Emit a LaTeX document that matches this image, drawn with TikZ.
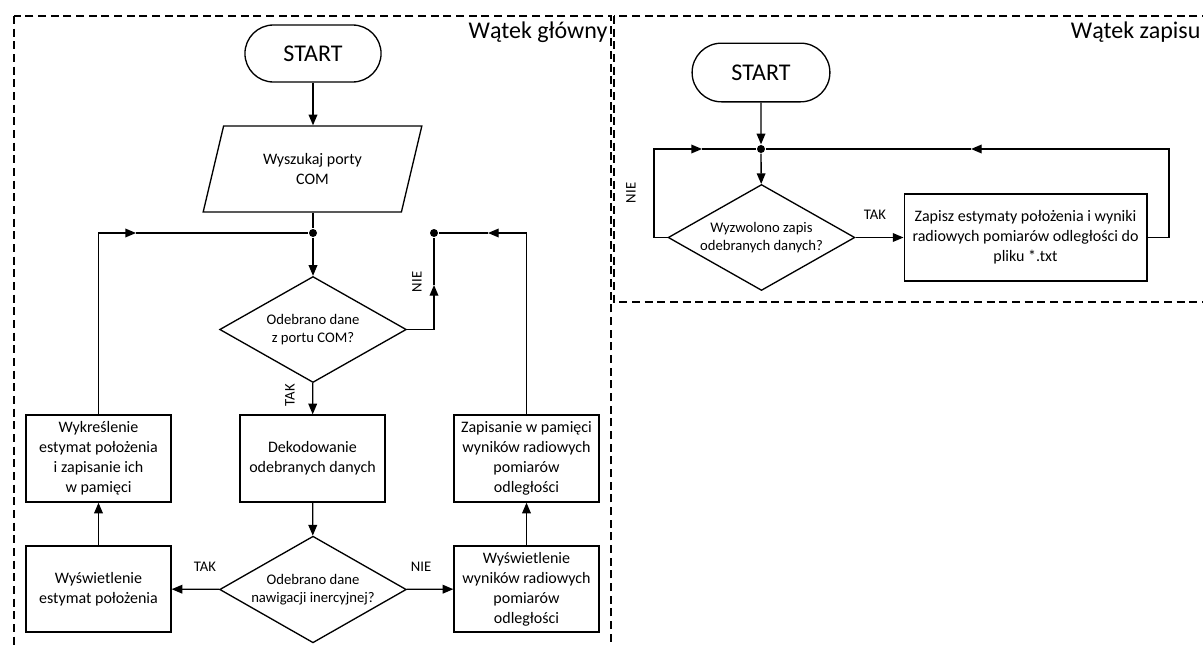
\documentclass[tikz,border=0pt]{standalone}
\usepackage{fontspec}
\setmainfont{Carlito}
\usepackage{tikz}
\usetikzlibrary{positioning,arrows.meta,shapes.geometric,shapes.misc}

\begin{document}
\begin{tikzpicture}[x=0.75pt, y=-0.75pt, line width=1pt, >={Triangle[length=8pt,width=6.5pt]},
    box/.style={draw, minimum width=108.75pt, minimum height=65.25pt, inner sep=2pt, align=center, font=\fontsize{12}{15}\selectfont},
    dec/.style={draw, diamond, aspect=1.75, minimum width=140pt, minimum height=79.5pt, inner sep=0pt, align=center,
    font=\fontsize{11}{13.5}\selectfont},
    term/.style={draw, rounded rectangle, font=\fontsize{18}{21}\selectfont},
    io/.style={draw, trapezium, trapezium left angle=63, trapezium right angle=117, trapezium stretches body,
    minimum width=164pt, minimum height=64.5pt, align=center, font=\fontsize{12}{15}\selectfont},
    dot/.style={circle, fill, inner sep=0pt, minimum size=6pt},
    lbl/.style={inner sep=1pt, font=\fontsize{11}{13}\selectfont},
    frame/.style={draw, dash pattern=on 6pt off 3.5pt, line width=1.1pt},
    title/.style={inner sep=0pt, font=\fontsize{18}{21}\selectfont}]
    \useasboundingbox (0,0) rectangle (1203,646);
    \draw[frame] (14,16) rectangle (611,670);
    \draw[frame] (614,16) rectangle (1215,302);
    \node[title, anchor=base east] (tmain) at (608,38) {Wątek główny};
    \node[title, anchor=base east] (tzap) at (1201,38) {Wątek zapisu};

    \node[term, minimum width=108.75pt, minimum height=42.75pt] (startA) at (313,53.5) {START};
    \node[io] (szukaj) at (312.5,169) {Wyszukaj porty\\COM};
    \node[dot] (j1) at (313,233) {};
    \node[dot] (j2) at (434,233) {};
    \node[dec] (odbCom) at (313,329.5) {Odebrano dane\\z portu COM?};
    \node[box] (dekod) at (312.5,458.5) {Dekodowanie\\odebranych danych};
    \node[dec, minimum height=80pt] (odbIns) at (313,589.5) {Odebrano dane\\nawigacji inercyjnej?};
    \node[box, minimum height=64.5pt] (wysEst) at (98.5,589) {Wyświetlenie\\estymat położenia};
    \node[box] (wykres) at (98.5,458.5) {Wykreślenie\\estymat położenia\\i zapisanie ich\\w pamięci};
    \node[box, minimum height=64.5pt] (wysRad) at (526.5,589) {Wyświetlenie\\wyników radiowych\\pomiarów\\odległości};
    \node[box] (zapPam) at (526.5,458.5) {Zapisanie w pamięci\\wyników radiowych\\pomiarów\\odległości};
    \node[lbl, rotate=90] (nie1) at (417,282) {NIE};
    \node[lbl, rotate=90] (tak1) at (290,395) {TAK};
    \node[lbl] (tak2) at (205,567) {TAK};
    \node[lbl] (nie2) at (421,567) {NIE};
    \coordinate (a1) at (434,285);
    \coordinate (a2) at (136,233);
    \coordinate (a3) at (488,233);

    \draw[->] (startA.south) -- (startA.south |- szukaj.north); \draw (j1 |- szukaj.south) -- (j1); \draw[->] (j1) -- (odbCom);
    \draw[->] (odbCom.east) -| (a1); \draw (a1) -- (j2);
    \draw[->] (odbCom) -- (dekod); \draw[->] (dekod) -- (odbIns);
    \draw[->] (odbIns) -- (wysEst); \draw[->] (odbIns) -- (wysRad);
    \draw[->] (wysEst) -- (wykres); \draw[->] (wysRad) -- (zapPam);
    \draw[->] (wykres.north) |- (a2); \draw (a2) -- (j1);
    \draw[->] (zapPam.north) |- (a3); \draw (a3) -- (j2);

    \node[term, minimum width=110pt, minimum height=44pt] (startB) at (761,72.5) {START};
    \node[dot] (j3) at (761,149) {};
    \node[dec] (wyzw) at (761.5,237.5) {Wyzwolono zapis\\odebranych danych?};
    \node[box, minimum width=182pt] (zapPlik) at (1025.5,237.5) {Zapisz estymaty położenia i wyniki\\radiowych pomiarów odległości do\\pliku *.txt};
    \node[lbl, rotate=90] (nie3) at (631,193) {NIE};
    \node[lbl] (tak3) at (875,215) {TAK};
    \coordinate (k1) at (654,237.5);
    \coordinate (k2) at (1169,237.5);
    \coordinate (a4) at (702,149);
    \coordinate (a5) at (971,149);

    \draw[->] (startB) -- (j3); \draw[->] (j3) -- (wyzw); \draw[->] (wyzw) -- (zapPlik);
    \draw[->] (wyzw.west) -- (k1) |- (a4); \draw (a4) -- (j3);
    \draw[->] (zapPlik.east) -- (k2) |- (a5); \draw (a5) -- (j3);
\end{tikzpicture}
\end{document}
